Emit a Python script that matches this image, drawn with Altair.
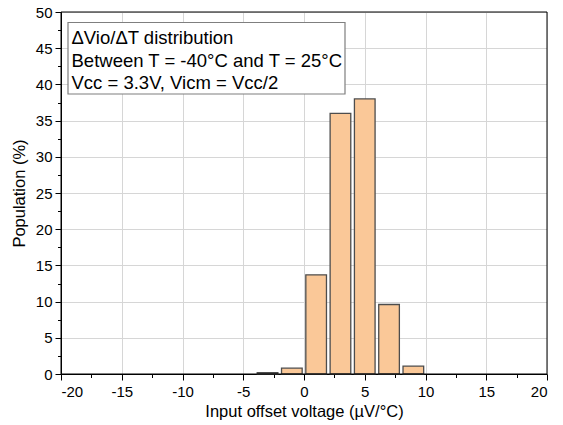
import altair as alt
import pandas as pd

bin_centers = [-3, -1, 1, 3, 5, 7, 9]
population = [0.2, 0.8, 13.7, 36.0, 38.0, 9.6, 1.1]
half_width = 0.85

x_major = [-20, -15, -10, -5, 0, 5, 10, 15, 20]
x_minor = [-17.5, -12.5, -7.5, -2.5, 2.5, 7.5, 12.5, 17.5]
y_major = [0, 5, 10, 15, 20, 25, 30, 35, 40, 45, 50]
y_minor = [2.5, 7.5, 12.5, 17.5, 22.5, 27.5, 32.5, 37.5, 42.5, 47.5]

note_lines = ["\u0394Vio/\u0394T distribution",
              "Between T = -40\u00b0C and T = 25\u00b0C",
              "Vcc = 3.3V, Vicm = Vcc/2"]
note_y = [25.5, 49, 70.5]

FONT = "Liberation Sans"
W, H = 486, 362

df = pd.DataFrame({
    "x0": [c - half_width for c in bin_centers],
    "x1": [c + half_width for c in bin_centers],
    "pop": population,
})

xs = alt.Scale(domain=[-20, 20], nice=False, zero=False)
ys = alt.Scale(domain=[0, 50], nice=False)

common = dict(labelColor="black", titleColor="black", titleFontWeight="normal",
              labelFont=FONT, titleFont=FONT, labelFontSize=15, titleFontSize=16.5,
              domainColor="black", tickColor="black",
              labelExpr="toString(datum.value)")

bars = alt.Chart(df).mark_rect(fill="#FAC898", stroke="#4d4d4d", strokeWidth=1.3).encode(
    x=alt.X("x0:Q", scale=xs, axis=alt.Axis(
        values=x_major, title="Input offset voltage (\u00b5V/\u00b0C)", grid=True,
        gridColor="#d6d6d6", tickSize=6, titlePadding=4, labelPadding=4,
        orient="bottom", **common)),
    x2="x1:Q",
    y=alt.Y("pop:Q", scale=ys, axis=alt.Axis(
        values=y_major, title="Population (%)", grid=True, gridColor="#d6d6d6",
        tickSize=6, titlePadding=8, labelPadding=3, orient="left", **common)),
    y2=alt.datum(0),
)

minor_df = pd.DataFrame({"mx": x_minor[:1], "my": y_minor[:1]})
minor = alt.Chart(minor_df).mark_point(opacity=0).encode(
    x=alt.X("mx:Q", scale=xs, axis=alt.Axis(
        values=x_minor, labels=False, title=None, grid=False, domain=False,
        tickSize=3.5, tickColor="black", orient="bottom")),
    y=alt.Y("my:Q", scale=ys, axis=alt.Axis(
        values=y_minor, labels=False, title=None, grid=False, domain=False,
        tickSize=3.5, tickColor="black", orient="left")),
)

frame = alt.Chart(pd.DataFrame({"a": [0]})).mark_rect(
    fill=None, stroke="black", strokeWidth=1).encode(
    x=alt.value(0), x2=alt.value(W), y=alt.value(0), y2=alt.value(H))

box = alt.Chart(pd.DataFrame({"a": [0]})).mark_rect(
    fill="white", stroke="#7f7f7f", strokeWidth=1.2).encode(
    x=alt.value(7), x2=alt.value(284), y=alt.value(10.5), y2=alt.value(82))

texts = [
    alt.Chart(pd.DataFrame({"t": [line]})).mark_text(
        align="left", baseline="middle", font=FONT, fontSize=18.5, color="black").encode(
        text="t:N", x=alt.value(10.5), y=alt.value(yy))
    for line, yy in zip(note_lines, note_y)
]

chart = alt.layer(bars, minor, frame, box, *texts).resolve_axis(
    x="independent", y="independent").properties(
    width=W, height=H, autosize=alt.AutoSizeParams(type="none"),
    padding={"left": 61, "top": 12, "right": 16, "bottom": 51},
).configure_view(stroke=None).configure(background="white")

chart.save("out.html", embed_options={"renderer": "svg", "actions": False})
